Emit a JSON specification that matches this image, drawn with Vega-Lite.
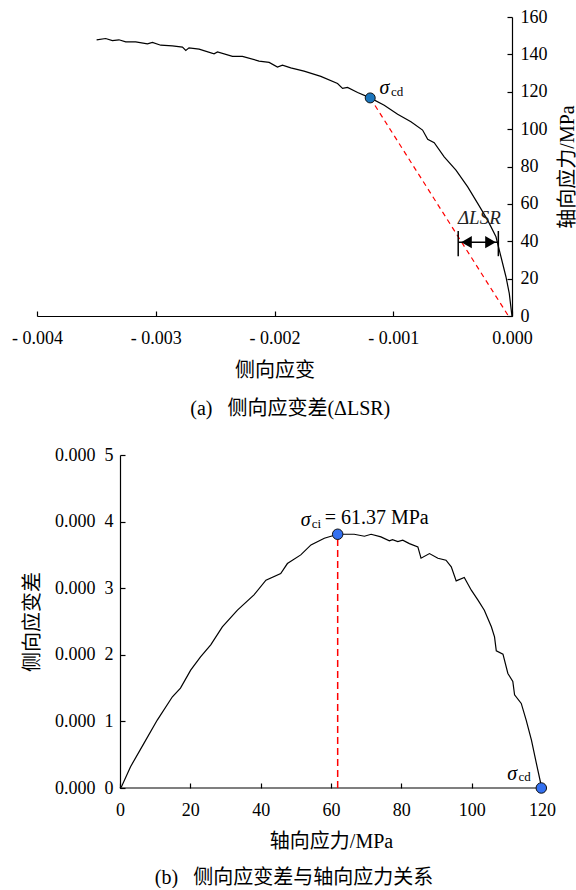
{
  "$schema": "https://vega.github.io/schema/vega-lite/v6.json",
  "background": "white",
  "padding": {"left": 11, "top": 8, "right": 0, "bottom": 0},
  "spacing": 27,
  "config": {
    "view": {"stroke": null},
    "font": "Liberation Serif",
    "axis": {
      "domainColor": "black", "domainWidth": 1.2,
      "tickColor": "black", "tickWidth": 1.2, "tickSize": -5,
      "labelColor": "black", "labelFont": "Liberation Serif", "labelFontSize": 18, "labelFlush": false,
      "titleColor": "black", "titleFont": "Liberation Serif, Noto Sans CJK SC",
      "titleFontSize": 20, "titleFontWeight": "normal", "grid": false
    },
    "title": {"color": "black", "font": "Liberation Serif, Noto Sans CJK SC", "fontSize": 20, "fontWeight": "normal"}
  },
  "datasets": {
    "lsr": [
      {"strain": -0.003498, "stress": 147.8}, {"strain": -0.003422, "stress": 148.5}, {"strain": -0.003365, "stress": 147.4},
      {"strain": -0.00331, "stress": 147.8}, {"strain": -0.003253, "stress": 146.7}, {"strain": -0.003169, "stress": 146.7},
      {"strain": -0.00307, "stress": 145.6}, {"strain": -0.003028, "stress": 146.4}, {"strain": -0.002958, "stress": 144.9},
      {"strain": -0.00286, "stress": 144.5}, {"strain": -0.002775, "stress": 143.9}, {"strain": -0.002747, "stress": 142.1},
      {"strain": -0.00272, "stress": 143.5}, {"strain": -0.002635, "stress": 142.8}, {"strain": -0.002509, "stress": 140.3},
      {"strain": -0.00248, "stress": 141.3}, {"strain": -0.002354, "stress": 138.9}, {"strain": -0.00227, "stress": 138.9},
      {"strain": -0.00213, "stress": 136.4}, {"strain": -0.002045, "stress": 135.7}, {"strain": -0.001975, "stress": 133.2},
      {"strain": -0.001933, "stress": 134.2}, {"strain": -0.001863, "stress": 132.8}, {"strain": -0.001751, "stress": 131.0},
      {"strain": -0.00161, "stress": 128.2}, {"strain": -0.001469, "stress": 124.4}, {"strain": -0.001427, "stress": 121.8},
      {"strain": -0.001385, "stress": 122.3}, {"strain": -0.0013, "stress": 119.6}, {"strain": -0.001194, "stress": 116.7},
      {"strain": -0.001076, "stress": 112.8}, {"strain": -0.000963, "stress": 107.9}, {"strain": -0.000851, "stress": 103.9},
      {"strain": -0.000753, "stress": 99.5}, {"strain": -0.00071, "stress": 94.5}, {"strain": -0.000655, "stress": 92.7},
      {"strain": -0.000571, "stress": 85.2}, {"strain": -0.000472, "stress": 78.1}, {"strain": -0.000373, "stress": 69.1},
      {"strain": -0.000289, "stress": 60.3}, {"strain": -0.000205, "stress": 51.3}, {"strain": -0.000135, "stress": 42.4},
      {"strain": -0.000093, "stress": 31.7}, {"strain": -0.000051, "stress": 21.0}, {"strain": -0.000023, "stress": 12.1},
      {"strain": -0.000003, "stress": 1.4}, {"strain": 0, "stress": 0}
    ],
    "diff": [
      {"stress": 0, "d": 0}, {"stress": 0.43, "d": 0.000002}, {"stress": 3.0, "d": 0.000032}, {"stress": 6.8, "d": 0.000067},
      {"stress": 10.6, "d": 0.000102}, {"stress": 14.9, "d": 0.000137}, {"stress": 17.2, "d": 0.00015}, {"stress": 20.1, "d": 0.000177},
      {"stress": 22.9, "d": 0.000197}, {"stress": 25.8, "d": 0.000215}, {"stress": 29.1, "d": 0.000242}, {"stress": 33.4, "d": 0.000267},
      {"stress": 38.1, "d": 0.00029}, {"stress": 41.5, "d": 0.000312}, {"stress": 45.7, "d": 0.000322}, {"stress": 47.6, "d": 0.000337},
      {"stress": 51.4, "d": 0.00035}, {"stress": 54.3, "d": 0.000365}, {"stress": 58.1, "d": 0.000375}, {"stress": 61.9, "d": 0.000381},
      {"stress": 66.6, "d": 0.000381}, {"stress": 69.5, "d": 0.000378}, {"stress": 71.4, "d": 0.000381}, {"stress": 74.2, "d": 0.000377},
      {"stress": 76.6, "d": 0.000371}, {"stress": 77.5, "d": 0.000373}, {"stress": 79.0, "d": 0.00037}, {"stress": 80.4, "d": 0.000372},
      {"stress": 82.3, "d": 0.000367}, {"stress": 84.7, "d": 0.000362}, {"stress": 85.6, "d": 0.000345}, {"stress": 88.0, "d": 0.000352},
      {"stress": 90.4, "d": 0.000345}, {"stress": 92.7, "d": 0.000342}, {"stress": 94.2, "d": 0.000332}, {"stress": 95.6, "d": 0.000311},
      {"stress": 97.9, "d": 0.000316}, {"stress": 99.9, "d": 0.000297}, {"stress": 101.8, "d": 0.000282}, {"stress": 103.6, "d": 0.000267},
      {"stress": 105.6, "d": 0.000242}, {"stress": 106.5, "d": 0.000227}, {"stress": 107.0, "d": 0.000206}, {"stress": 108.9, "d": 0.000201},
      {"stress": 110.3, "d": 0.000172}, {"stress": 111.7, "d": 0.00016}, {"stress": 112.2, "d": 0.00014}, {"stress": 114.1, "d": 0.000127},
      {"stress": 115.5, "d": 0.000102}, {"stress": 117.0, "d": 0.000072}, {"stress": 118.4, "d": 0.000037}, {"stress": 119.8, "d": 0.000003}
    ]
  },
  "vconcat": [
    {
      "width": 475, "height": 299,
      "title": {"text": "(a)\u00a0\u00a0\u00a0侧向应变差(ΔLSR)", "orient": "bottom", "anchor": "middle", "frame": "bounds", "offset": 19, "dx": -4},
      "encoding": {
        "x": {"field": "strain", "type": "quantitative",
          "scale": {"domain": [-0.004, 0], "nice": false, "zero": false},
          "axis": {"title": "侧向应变", "orient": "bottom", "values": [-0.004, -0.003, -0.002, -0.001, 0],
            "labelExpr": "datum.value < -0.0000001 ? '- ' + format(-datum.value, '.3f') : '0.000'",
            "labelPadding": 18, "titlePadding": 13}},
        "y": {"field": "stress", "type": "quantitative",
          "scale": {"domain": [0, 160], "nice": false},
          "axis": {"title": "轴向应力/MPa", "orient": "right", "values": [0, 20, 40, 60, 80, 100, 120, 140, 160],
            "labelPadding": 13, "titleAngle": 270, "titleBaseline": "top", "titlePadding": 10}}
      },
      "layer": [
        {"data": {"name": "lsr"}, "mark": {"type": "line", "color": "black", "strokeWidth": 1.2}},
        {"data": {"values": [{"strain": -0.001194, "stress": 116.7}, {"strain": -0.00003, "stress": 0}]},
          "mark": {"type": "line", "color": "#ff0000", "strokeWidth": 1.2, "strokeDash": [5, 4]}},
        {"data": {"values": [{"strain": -0.000453, "stress": 32, "s2": 45.5}, {"strain": -0.000115, "stress": 32, "s2": 45.5}]},
          "mark": {"type": "rule", "color": "black", "strokeWidth": 1.5},
          "encoding": {"y2": {"field": "s2"}}},
        {"data": {"values": [{"strain": -0.000453, "s2": -0.000115, "stress": 39.5}]},
          "mark": {"type": "rule", "color": "black", "strokeWidth": 1.5},
          "encoding": {"x2": {"field": "s2"}}},
        {"data": {"values": [{"strain": -0.000383, "stress": 39.5, "shape": "triangle-left"}, {"strain": -0.000181, "stress": 39.5, "shape": "triangle-right"}]},
          "mark": {"type": "point", "filled": true, "color": "black", "size": 150, "opacity": 1},
          "encoding": {"shape": {"field": "shape", "type": "nominal", "scale": null, "legend": null}}},
        {"data": {"values": [{"strain": -0.000275, "stress": 52.4, "label": "ΔLSR"}]},
          "mark": {"type": "text", "fontSize": 19, "fontStyle": "italic", "font": "Liberation Serif", "color": "#222", "align": "center", "baseline": "middle"},
          "encoding": {"text": {"field": "label"}}},
        {"data": {"values": [{"strain": -0.001194, "stress": 116.7}]},
          "mark": {"type": "point", "filled": true, "fill": "#1b75bc", "stroke": "#111", "strokeWidth": 1, "size": 100, "opacity": 1}},
        {"data": {"values": [{"strain": -0.001075, "stress": 122.2, "label": "σ"}]},
          "mark": {"type": "text", "fontSize": 20, "fontStyle": "italic", "font": "Liberation Serif", "color": "black", "align": "center", "baseline": "middle"},
          "encoding": {"text": {"field": "label"}}},
        {"data": {"values": [{"strain": -0.00102, "stress": 119.8, "label": "cd"}]},
          "mark": {"type": "text", "fontSize": 13, "font": "Liberation Serif", "color": "black", "align": "left", "baseline": "middle"},
          "encoding": {"text": {"field": "label"}}}
      ]
    },
    {
      "width": 505, "height": 333,
      "title": {"text": "(b)\u00a0\u00a0\u00a0侧向应变差与轴向应力关系", "orient": "bottom", "anchor": "middle", "frame": "bounds", "offset": 17, "dx": 5},
      "encoding": {
        "x": {"field": "stress", "type": "quantitative",
          "scale": {"domain": [-23.6, 120], "nice": false, "zero": false},
          "axis": {"title": "轴向应力/MPa", "values": [0, 20, 40, 60, 80, 100, 120], "domain": false, "labelPadding": 18, "titlePadding": 12, "titleX": 294}},
        "y": {"field": "d", "type": "quantitative",
          "scale": {"domain": [0, 0.0005], "nice": false},
          "axis": {"title": "侧向应变差", "offset": -83, "values": [0, 0.0001, 0.0002, 0.0003, 0.0004, 0.0005],
            "labelExpr": "slice(format(datum.value, '.4f'), 0, 5) + '\u2002' + slice(format(datum.value, '.4f'), 5)",
            "labelPadding": 12, "titlePadding": 12}}
      },
      "layer": [
        {"data": {"values": [{"stress": 0, "s2": 120, "d": 0}]},
          "mark": {"type": "rule", "color": "black", "strokeWidth": 1.2},
          "encoding": {"x2": {"field": "s2"}}},
        {"data": {"name": "diff"}, "mark": {"type": "line", "color": "black", "strokeWidth": 1.2}},
        {"data": {"values": [{"stress": 61.9, "d": 0, "d2": 0.000381}]},
          "mark": {"type": "rule", "color": "#ff0000", "strokeWidth": 1.5, "strokeDash": [7, 4]},
          "encoding": {"y2": {"field": "d2"}}},
        {"data": {"values": [{"stress": 61.9, "d": 0.000381}, {"stress": 119.8, "d": 0}]},
          "mark": {"type": "point", "filled": true, "fill": "#3370f0", "stroke": "#111", "strokeWidth": 1, "size": 110, "opacity": 1}},
        {"data": {"values": [{"stress": 52.8, "d": 0.000402, "label": "σ"}, {"stress": 111.5, "d": 0.000021, "label": "σ"}]},
          "mark": {"type": "text", "fontSize": 20, "fontStyle": "italic", "font": "Liberation Serif", "color": "black", "align": "center", "baseline": "middle"},
          "encoding": {"text": {"field": "label"}}},
        {"data": {"values": [{"stress": 54.5, "d": 0.000396, "label": "ci"}, {"stress": 113.3, "d": 0.0000165, "label": "cd"}]},
          "mark": {"type": "text", "fontSize": 13, "font": "Liberation Serif", "color": "black", "align": "left", "baseline": "middle"},
          "encoding": {"text": {"field": "label"}}},
        {"data": {"values": [{"stress": 58.2, "d": 0.000405, "label": "= 61.37 MPa"}]},
          "mark": {"type": "text", "fontSize": 20, "font": "Liberation Serif", "color": "black", "align": "left", "baseline": "middle"},
          "encoding": {"text": {"field": "label"}}}
      ]
    }
  ]
}
